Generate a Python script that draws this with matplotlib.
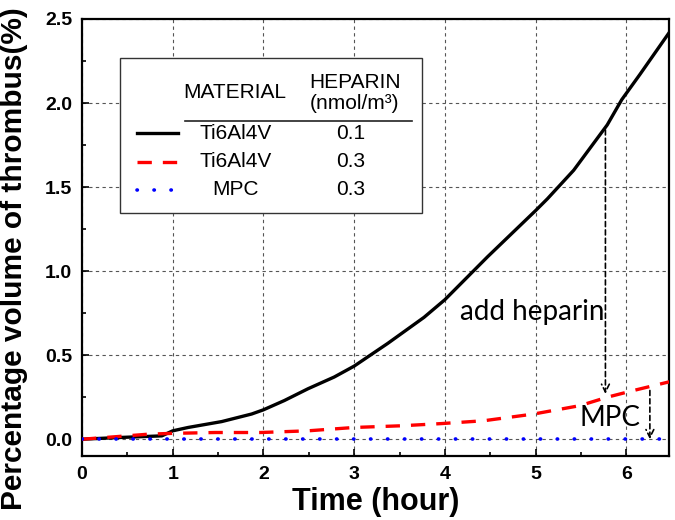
import matplotlib
matplotlib.use("Agg")
import matplotlib.pyplot as plt
from matplotlib.lines import Line2D
from matplotlib.patches import Rectangle
from matplotlib.ticker import MultipleLocator, FormatStrFormatter

# ---- data ----
t_ti01 = [0.0, 0.4, 0.88, 1.0, 1.17, 1.54, 1.87, 2.0, 2.23, 2.49, 2.78, 3.0, 3.37, 3.77, 4.0,
          4.47, 5.0, 5.13, 5.42, 5.79, 5.95, 6.15, 6.5]
v_ti01 = [0.0, 0.01, 0.02, 0.05, 0.07, 0.105, 0.15, 0.175, 0.23, 0.30, 0.37, 0.435, 0.57, 0.725, 0.83,
          1.085, 1.36, 1.43, 1.60, 1.87, 2.02, 2.17, 2.44]
t_ti03 = [0.0, 0.37, 0.73, 1.0, 1.47, 1.97, 2.49, 3.0, 3.52, 3.96, 4.43, 4.98, 5.49, 5.79, 6.08, 6.5]
v_ti03 = [0.0, 0.015, 0.03, 0.035, 0.04, 0.04, 0.05, 0.07, 0.08, 0.093, 0.11, 0.15, 0.20, 0.25, 0.29, 0.345]
t_mpc = [0.0, 1.0, 2.0, 3.0, 4.0, 5.0, 6.0, 6.5]
v_mpc = [0.0, 0.0, 0.0, 0.0, 0.0, 0.0, 0.0, 0.0]

materials = ["Ti6Al4V", "Ti6Al4V", "MPC"]
heparin = ["0.1", "0.3", "0.3"]

plt.rcParams['font.family'] = ['Liberation Sans', 'DejaVu Sans']

fig = plt.figure(figsize=(6.75, 5.2), dpi=100)
ax = fig.add_axes([0.1215, 0.123, 0.8695, 0.8405])

ax.plot(t_ti01, v_ti01, color='black', lw=2.4, solid_joinstyle='round', zorder=5)
ax.plot(t_ti03, v_ti03, color='#ff0000', lw=2.4, ls=(0, (4.3, 3.3)), zorder=5)
ax.plot(t_mpc, v_mpc, color='#0000ff', lw=2.6, ls=(0, (0.1, 4.6)), dash_capstyle='round', zorder=5)

ax.set_xlim(0, 6.47)
ax.set_ylim(-0.1, 2.5)
ax.xaxis.set_major_locator(MultipleLocator(1))
ax.xaxis.set_minor_locator(MultipleLocator(0.5))
ax.yaxis.set_major_locator(MultipleLocator(0.5))
ax.yaxis.set_minor_locator(MultipleLocator(0.25))
ax.yaxis.set_major_formatter(FormatStrFormatter('%.1f'))
ax.tick_params(which='both', direction='in', width=1.2, labelsize=14)
ax.tick_params(which='major', length=5, pad=7)
ax.tick_params(which='minor', length=3)
for lab in ax.get_xticklabels() + ax.get_yticklabels():
    lab.set_fontweight('bold')
for s in ax.spines.values():
    s.set_linewidth(1.6)
ax.grid(True, which='major', color='#555555', ls=(0, (3, 3)), lw=0.8)
ax.set_axisbelow(True)

ax.set_xlabel("Time (hour)", fontsize=22, fontweight='bold', labelpad=3)
fig.text(0.021, 1 - 259 / 520, "Percentage volume of thrombus(%)", fontsize=21.5,
         fontweight='bold', rotation=90, ha='center', va='center')

# annotations
ann_font = ['Lato', 'DejaVu Sans']
ax.text(4.96, 0.756, "add heparin", fontsize=20, family=ann_font, ha='center', va='center', zorder=6)
ax.text(5.82, 0.125, "MPC", fontsize=20, family=ann_font, ha='center', va='center', zorder=6)
arrow_kw = dict(arrowstyle='->', lw=1.2, ls=(0, (3, 2)), color='black', mutation_scale=14,
                shrinkA=0, shrinkB=0)
ax.annotate("", xy=(5.77, 0.27), xytext=(5.77, 1.84), arrowprops=arrow_kw, zorder=6)
ax.annotate("", xy=(6.26, 0.0), xytext=(6.26, 0.29), arrowprops=arrow_kw, zorder=6)

# custom table legend
T = ax.transAxes
ax.add_patch(Rectangle((0.0647, 0.556), 0.514, 0.355, transform=T, facecolor='white',
                       edgecolor='#333333', lw=1.0, zorder=7))
ax.text(0.261, 0.831, "MATERIAL", transform=T, fontsize=15, ha='center', va='center', zorder=8)
ax.text(0.465, 0.854, "HEPARIN", transform=T, fontsize=15, ha='center', va='center', zorder=8)
ax.text(0.465, 0.806, "(nmol/m³)", transform=T, fontsize=15, ha='center', va='center', zorder=8)
ax.add_line(Line2D([0.175, 0.562], [0.767, 0.767], transform=T, color='#222222', lw=1.2, zorder=8))
styles = [dict(color='black', lw=2.4),
          dict(color='#ff0000', lw=2.4, ls=(0, (4.3, 3.3))),
          dict(color='#0000ff', lw=2.6, ls=(0, (0.1, 4.6)), dash_capstyle='round')]
rows_y = [0.739, 0.673, 0.609]
for yy, m, h, st in zip(rows_y, materials, heparin, styles):
    ax.add_line(Line2D([0.094, 0.164], [yy, yy], transform=T, zorder=8, **st))
    ax.text(0.261, yy, m, transform=T, fontsize=15, ha='center', va='center', zorder=8)
    ax.text(0.457, yy, h, transform=T, fontsize=15, ha='center', va='center', zorder=8)

fig.savefig("out.png", dpi=100)
